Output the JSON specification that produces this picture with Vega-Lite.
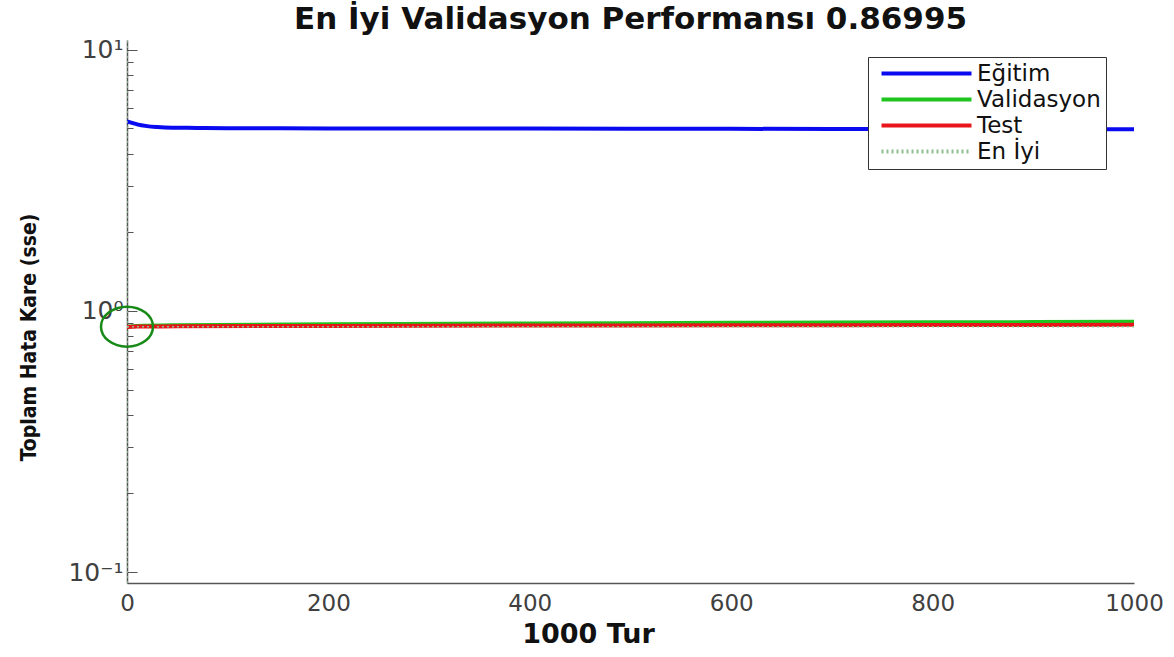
{
  "$schema": "https://vega.github.io/schema/vega-lite/v6.json",
  "width": 1007,
  "height": 543,
  "autosize": "none",
  "padding": {"left": 127, "top": 40, "right": 40, "bottom": 74},
  "background": "white",
  "title": {
    "text": "En İyi Validasyon Performansı 0.86995",
    "font": "DejaVu Sans",
    "fontSize": 31,
    "fontWeight": "bold",
    "color": "#111111",
    "anchor": "middle",
    "offset": 2
  },
  "config": {
    "view": {"stroke": null},
    "axis": {"grid": false, "domainColor": "#555555", "domainWidth": 1.5, "tickColor": "#555555", "labelColor": "#404040", "labelFont": "DejaVu Sans", "labelFontSize": 23, "titleColor": "#111111"}
  },
  "datasets": {
    "lines": [
      {"series": "Eğitim", "epoch": 0, "value": 5.32},
      {"series": "Eğitim", "epoch": 5, "value": 5.25},
      {"series": "Eğitim", "epoch": 10, "value": 5.18},
      {"series": "Eğitim", "epoch": 20, "value": 5.1},
      {"series": "Eğitim", "epoch": 30, "value": 5.06},
      {"series": "Eğitim", "epoch": 45, "value": 5.03},
      {"series": "Eğitim", "epoch": 70, "value": 5.02},
      {"series": "Eğitim", "epoch": 100, "value": 5.01},
      {"series": "Eğitim", "epoch": 200, "value": 5.0},
      {"series": "Eğitim", "epoch": 400, "value": 4.99},
      {"series": "Eğitim", "epoch": 600, "value": 4.98},
      {"series": "Eğitim", "epoch": 800, "value": 4.97},
      {"series": "Eğitim", "epoch": 1000, "value": 4.96},
      {"series": "Validasyon", "epoch": 0, "value": 0.87},
      {"series": "Validasyon", "epoch": 10, "value": 0.876},
      {"series": "Validasyon", "epoch": 50, "value": 0.882},
      {"series": "Validasyon", "epoch": 200, "value": 0.889},
      {"series": "Validasyon", "epoch": 400, "value": 0.895},
      {"series": "Validasyon", "epoch": 600, "value": 0.9},
      {"series": "Validasyon", "epoch": 800, "value": 0.904},
      {"series": "Validasyon", "epoch": 1000, "value": 0.908},
      {"series": "Test", "epoch": 0, "value": 0.868},
      {"series": "Test", "epoch": 10, "value": 0.871},
      {"series": "Test", "epoch": 50, "value": 0.873},
      {"series": "Test", "epoch": 200, "value": 0.876},
      {"series": "Test", "epoch": 400, "value": 0.879},
      {"series": "Test", "epoch": 600, "value": 0.881},
      {"series": "Test", "epoch": 800, "value": 0.883},
      {"series": "Test", "epoch": 1000, "value": 0.885},
      {"series": "En İyi", "seg": "v", "epoch": 0, "value": 0.0908},
      {"series": "En İyi", "seg": "v", "epoch": 0, "value": 10.9},
      {"series": "En İyi", "seg": "h", "epoch": 0, "value": 0.86995},
      {"series": "En İyi", "seg": "h", "epoch": 1000, "value": 0.86995}
    ],
    "best": [
      {"epoch": 0, "value": 0.86995}
    ]
  },
  "encoding": {
    "x": {
      "field": "epoch", "type": "quantitative",
      "scale": {"domain": [0, 1000], "nice": false},
      "axis": {"values": [0, 200, 400, 600, 800, 1000], "format": "d", "title": "1000 Tur", "titleFont": "DejaVu Sans", "titleFontSize": 27, "titleFontWeight": "bold", "titleX": 461, "tickSize": 0, "labelPadding": 9, "titlePadding": 6, "labelFlush": false}
    },
    "y": {
      "field": "value", "type": "quantitative",
      "scale": {"type": "log", "domain": [0.0908, 10.9], "nice": false},
      "axis": {
        "values": [0.1, 0.2, 0.3, 0.4, 0.5, 0.6, 0.7, 0.8, 0.9, 1, 2, 3, 4, 5, 6, 7, 8, 9, 10],
        "labelExpr": "datum.value == 10 ? '10¹' : datum.value == 1 ? '10⁰' : datum.value == 0.1 ? '10⁻¹' : ''",
        "labelFontSize": 25,
        "tickSize": {"condition": {"test": "datum.value == 10 || datum.value == 1 || datum.value == 0.1", "value": -10}, "value": -6},
        "labelPadding": 14,
        "title": "Toplam Hata Kare  (sse)",
        "titleFont": "DejaVu Sans Condensed, Roboto Condensed, Liberation Sans Narrow, sans-serif",
        "titleFontSize": 21,
        "titleFontWeight": "bold",
        "titlePadding": 28,
        "titleY": 297,
        "labelFlush": false
      }
    }
  },
  "layer": [
    {
      "data": {"name": "lines"},
      "transform": [{"filter": "datum.series == 'Eğitim'"}],
      "mark": {"type": "line", "interpolate": "monotone", "strokeWidth": 4, "clip": true},
      "encoding": {
        "color": {"field": "series", "type": "nominal", "scale": {"domain": ["Eğitim", "Validasyon", "Test", "En İyi"], "range": ["#0a0af0", "#1fc41f", "#e8161a", "#8fbf8f"]},
          "legend": {
            "orient": "none", "legendX": 741, "legendY": 17,
            "title": null,
            "symbolType": "M-90,0H0",
            "symbolSize": 4,
            "symbolStrokeWidth": 4,
            "symbolOpacity": 1,
            "labelFont": "DejaVu Sans", "labelFontSize": 23, "labelColor": "#111111",
            "labelOffset": -6,
            "rowPadding": 2,
            "padding": 5,
            "strokeColor": "#333333",
            "fillColor": "white",
            "symbolOffset": 87
          }
        }
      }
    },
    {
      "data": {"name": "lines"},
      "transform": [{"filter": "datum.series == 'Validasyon'"}],
      "mark": {"type": "line", "interpolate": "monotone", "strokeWidth": 4, "clip": true},
      "encoding": {"color": {"field": "series", "type": "nominal"}}
    },
    {
      "data": {"name": "lines"},
      "transform": [{"filter": "datum.series == 'Test'"}],
      "mark": {"type": "line", "interpolate": "monotone", "strokeWidth": 4, "clip": true},
      "encoding": {"color": {"field": "series", "type": "nominal"}}
    },
    {
      "data": {"name": "lines"},
      "transform": [{"filter": "datum.series == 'En İyi'"}],
      "mark": {"type": "line", "strokeWidth": 1.5, "clip": true},
      "encoding": {
        "detail": {"field": "seg"},
        "color": {"field": "series", "type": "nominal"},
        "strokeDash": {"field": "series", "type": "nominal", "scale": {"domain": ["Eğitim", "Validasyon", "Test", "En İyi"], "range": [[1, 0], [1, 0], [1, 0], [2, 3]]}}
      }
    },
    {
      "data": {"name": "best"},
      "mark": {"type": "point", "shape": "M-1.3,0A1.3,1,0,1,0,1.3,0A1.3,1,0,1,0,-1.3,0", "size": 1600, "filled": false, "stroke": "#178a17", "strokeWidth": 2.5, "opacity": 1, "clip": false}
    }
  ]
}
